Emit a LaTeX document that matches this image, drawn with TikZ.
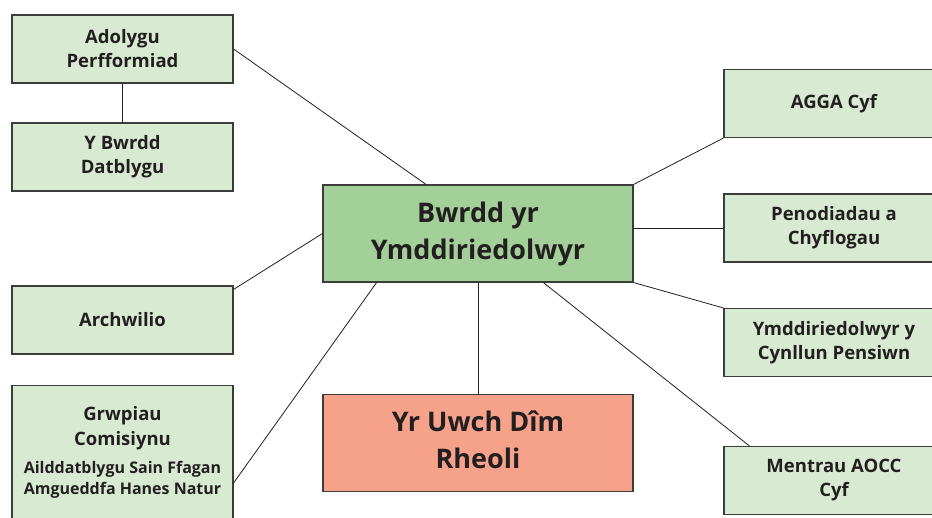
\documentclass[tikz,border=0pt]{standalone}
\usepackage{fontspec}
\setmainfont{Open Sans}
\usetikzlibrary{calc}
\definecolor{lightgreen}{RGB}{217,234,211}
\definecolor{midgreen}{RGB}{163,208,153}
\definecolor{salmon}{RGB}{246,162,138}
\definecolor{edge}{RGB}{60,60,60}
\definecolor{ink}{RGB}{35,31,32}
\tikzset{
  sidebox/.style={draw=edge, line width=1.1pt, fill=lightgreen, minimum width=221pt, minimum height=68pt,
    inner sep=0pt, align=center, font=\fontsize{18.5}{24}\selectfont\bfseries, text=ink},
  bigbox/.style={draw=edge, line width=1.1pt, minimum width=310pt, inner sep=0pt, align=center,
    font=\fontsize{27}{37}\selectfont\bfseries, text=ink},
  link/.style={draw=ink, line width=0.8pt}
}
\begin{document}
\begin{tikzpicture}[x=1pt,y=-1pt]
\useasboundingbox (0,0) rectangle (932,517);
% left column
\node[sidebox] (adol) at (122.5,49) {Adolygu\\Perfformiad};
\node[sidebox] (bwrdd) at (122.5,157) {Y Bwrdd\\Datblygu};
\node[sidebox] (arch) at (122.5,320) {Archwilio};
\node[sidebox, minimum height=150pt, anchor=north] (grwp) at (122.5,385) {};
\node[align=center, text=ink, font=\fontsize{18.5}{25}\selectfont\bfseries] (grwpt) at (122.5,428) {Grwpiau\\Comisiynu};
\node[align=center, text=ink, font=\fontsize{16}{21}\selectfont\bfseries] (grwps) at (122.5,480) {Ailddatblygu Sain Ffagan\\Amgueddfa Hanes Natur};
% centre
\node[bigbox, fill=midgreen, minimum height=97pt] (bw) at (478,233.5) {Bwrdd yr\\Ymddiriedolwyr};
\node[bigbox, fill=salmon, minimum height=97pt, anchor=north] (uw) at (478,393.5) {};
\node[align=center, text=ink, font=\fontsize{27}{37}\selectfont\bfseries] (uwt) at (478,440) {Yr Uwch Dîm\\Rheoli};
% right column
\node[sidebox, minimum width=220pt] (agga) at (834,103.5) {AGGA Cyf};
\node[sidebox, minimum width=220pt] (pen) at (834,228) {Penodiadau a\\Chyflogau};
\node[sidebox, minimum width=220pt] (ymd) at (834,342.5) {Ymddiriedolwyr y\\Cynllun Pensiwn};
\node[sidebox, minimum width=220pt] (ment) at (834,480.5) {Mentrau AOCC\\Cyf};
% connectors
\draw[link] (adol.east) -- ($(bw.north west)!0.333!(bw.north east)$);
\draw[link] (adol.south) -- (bwrdd.north);
\draw[link] ($(arch.north east)+(0,4)$) -- (bw.west);
\draw[link] ($(grwp.north east)+(0,98)$) -- ($(bw.south west)!0.174!(bw.south east)$);
\draw[link] (bw.south) -- (uw.north);
\draw[link] (bw.north east) -- (agga.south west);
\draw[link] (pen.west) -- (pen.west -| bw.east);
\draw[link] (bw.south east) -- (ymd.north west);
\draw[link] ($(bw.south west)!0.71!(bw.south east)$) -- ($(ment.north west)+(26,0)$);
\end{tikzpicture}
\end{document}
